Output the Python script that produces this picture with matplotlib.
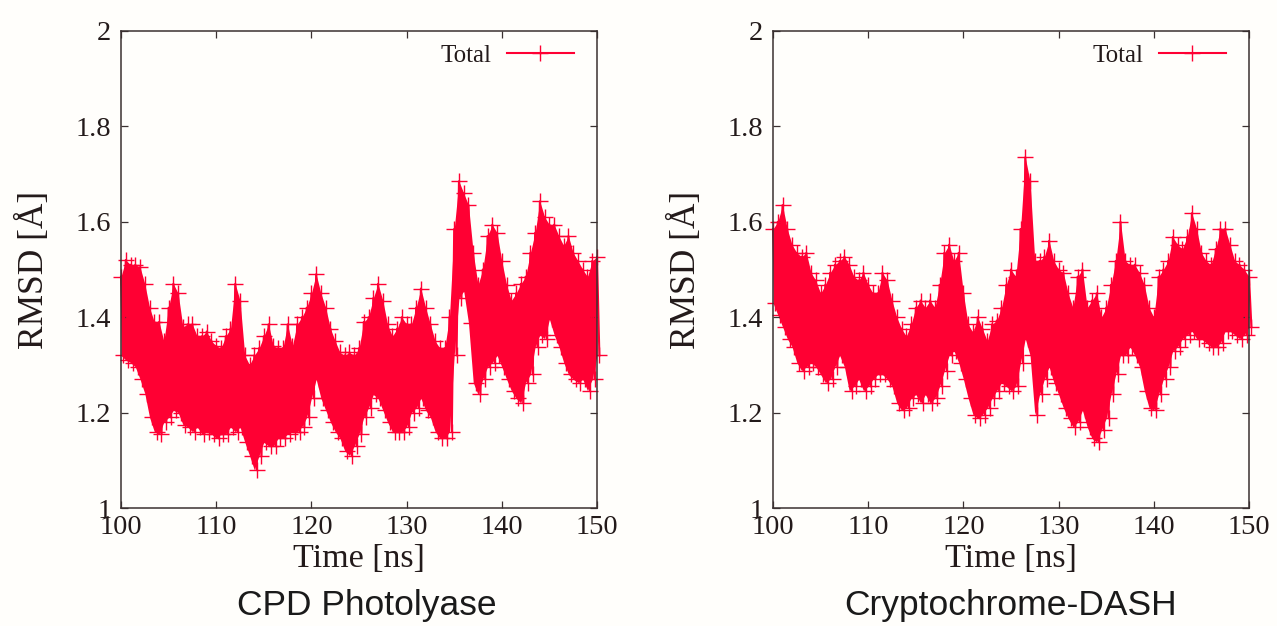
import numpy as np
import matplotlib
matplotlib.use("Agg")
import matplotlib.pyplot as plt

# ─────────────────────────────────────────────────────────────────────────────
# Data: RMSD envelope (top / bottom of the fluctuating band), read every 0.5 ns
# ─────────────────────────────────────────────────────────────────────────────

time_ns = np.arange(100.0, 150.01, 0.5)

cpd_upper = [
    1.485, 1.52, 1.51, 1.51, 1.505, 1.47, 1.42, 1.39, 1.39, 1.35,
    1.42, 1.47, 1.45, 1.38, 1.385, 1.385, 1.36, 1.36, 1.37, 1.35,
    1.34, 1.335, 1.36, 1.376, 1.47, 1.435, 1.32, 1.30, 1.32, 1.335,
    1.36, 1.385, 1.34, 1.335, 1.335, 1.385, 1.34, 1.385, 1.40, 1.42,
    1.45, 1.49, 1.45, 1.42, 1.376, 1.35, 1.326, 1.32, 1.326, 1.32,
    1.335, 1.39, 1.40, 1.44, 1.47, 1.435, 1.385, 1.36, 1.376, 1.40,
    1.385, 1.385, 1.42, 1.46, 1.42, 1.385, 1.35, 1.335, 1.335, 1.40,
    1.585, 1.685, 1.66, 1.635, 1.535, 1.468, 1.50, 1.57, 1.594, 1.577,
    1.518, 1.468, 1.435, 1.45, 1.47, 1.485, 1.535, 1.577, 1.643, 1.61,
    1.594, 1.594, 1.57, 1.55, 1.57, 1.535, 1.518, 1.50, 1.485, 1.518,
    1.527,
]
cpd_lower = [
    1.32, 1.31, 1.305, 1.296, 1.27, 1.24, 1.19, 1.16, 1.155, 1.18,
    1.19, 1.205, 1.20, 1.175, 1.17, 1.16, 1.17, 1.155, 1.16, 1.155,
    1.146, 1.155, 1.155, 1.17, 1.16, 1.17, 1.138, 1.11, 1.08, 1.11,
    1.138, 1.13, 1.13, 1.146, 1.146, 1.155, 1.16, 1.16, 1.17, 1.19,
    1.23, 1.27, 1.23, 1.205, 1.18, 1.16, 1.146, 1.12, 1.11, 1.13,
    1.155, 1.19, 1.21, 1.238, 1.23, 1.205, 1.18, 1.16, 1.16, 1.16,
    1.17, 1.20, 1.21, 1.23, 1.205, 1.19, 1.16, 1.146, 1.146, 1.16,
    1.32, 1.44, 1.455, 1.388, 1.263, 1.238, 1.27, 1.296, 1.305, 1.32,
    1.296, 1.27, 1.246, 1.23, 1.22, 1.263, 1.28, 1.338, 1.363, 1.355,
    1.396, 1.363, 1.338, 1.305, 1.28, 1.27, 1.263, 1.27, 1.246, 1.27,
    1.32,
]

dash_upper = [
    1.585, 1.60, 1.635, 1.585, 1.552, 1.535, 1.527, 1.535, 1.493, 1.477,
    1.45, 1.468, 1.493, 1.51, 1.518, 1.527, 1.51, 1.485, 1.477, 1.493,
    1.468, 1.45, 1.45, 1.493, 1.477, 1.435, 1.40, 1.376, 1.36, 1.385,
    1.42, 1.435, 1.42, 1.435, 1.42, 1.468, 1.535, 1.552, 1.518, 1.535,
    1.45, 1.385, 1.368, 1.40, 1.376, 1.35, 1.385, 1.393, 1.42, 1.468,
    1.50, 1.485, 1.585, 1.735, 1.685, 1.518, 1.518, 1.527, 1.56, 1.518,
    1.50, 1.493, 1.45, 1.42, 1.485, 1.50, 1.42, 1.435, 1.45, 1.40,
    1.42, 1.468, 1.518, 1.60, 1.518, 1.51, 1.51, 1.493, 1.468, 1.42,
    1.40, 1.485, 1.50, 1.518, 1.568, 1.552, 1.543, 1.568, 1.618, 1.585,
    1.535, 1.518, 1.51, 1.543, 1.585, 1.585, 1.552, 1.518, 1.51, 1.50,
    1.485,
]
dash_lower = [
    1.43, 1.405, 1.38, 1.355, 1.338, 1.305, 1.288, 1.296, 1.305, 1.296,
    1.28, 1.263, 1.27, 1.296, 1.32, 1.296, 1.246, 1.255, 1.27, 1.246,
    1.255, 1.27, 1.28, 1.28, 1.27, 1.255, 1.22, 1.205, 1.21, 1.23,
    1.238, 1.22, 1.238, 1.22, 1.23, 1.255, 1.288, 1.32, 1.33, 1.305,
    1.27, 1.23, 1.196, 1.188, 1.196, 1.21, 1.23, 1.246, 1.263, 1.255,
    1.246, 1.255, 1.305, 1.355, 1.32, 1.196, 1.238, 1.27, 1.296, 1.263,
    1.238, 1.21, 1.188, 1.17, 1.18, 1.205, 1.17, 1.146, 1.138, 1.163,
    1.188, 1.238, 1.28, 1.32, 1.32, 1.338, 1.32, 1.296, 1.246, 1.21,
    1.205, 1.238, 1.27, 1.296, 1.33, 1.338, 1.355, 1.363, 1.371, 1.355,
    1.355, 1.346, 1.338, 1.338, 1.346, 1.371, 1.371, 1.363, 1.355, 1.363,
    1.38,
]

titles = ["CPD Photolyase", "Cryptochrome-DASH"]
xticks = [100, 110, 120, 130, 140, 150]
yticks = [1.0, 1.2, 1.4, 1.6, 1.8, 2.0]
ytick_labels = ["1", "1.2", "1.4", "1.6", "1.8", "2"]

RED   = "#ff0033"
AXCOL = "#3a3030"
TXT   = "#231a1a"
BG    = "#fffefb"
SERIF = "Liberation Serif"
SANS  = "Liberation Sans"


def trace(upper, lower):
    """Interleave upper/lower samples so the line sweeps across the band."""
    x = np.empty(2 * len(time_ns))
    y = np.empty(2 * len(time_ns))
    x[0::2] = time_ns
    x[1::2] = time_ns + 0.25
    y[0::2] = upper
    y[1::2] = lower
    return x, y


# ─────────────────────────────────────────────────────────────────────────────
# Figure
# ─────────────────────────────────────────────────────────────────────────────

fig = plt.figure(figsize=(12.77, 6.26), dpi=100, facecolor=BG)
W, H = 1277, 626

panels = [
    (121, (cpd_upper, cpd_lower), 367),
    (773, (dash_upper, dash_lower), 1011),
]

for (left_px, (up, lo), title_x), title in zip(panels, titles):
    ax = fig.add_axes([left_px / W, (H - 508) / H, 476 / W, 477 / H])
    ax.set_facecolor(BG)

    # solid body of the dense trace, then the zig-zag with '+' points on top
    ax.fill_between(time_ns, lo, up, color=RED, lw=0, clip_on=False)
    x, y = trace(up, lo)
    ax.plot(x, y, color=RED, lw=1.5, marker="+", markersize=11,
            markeredgewidth=1.0, label="Total", clip_on=False)

    ax.set_xlim(100, 150)
    ax.set_ylim(1, 2)
    ax.set_xticks(xticks)
    ax.set_xticklabels([str(t) for t in xticks])
    ax.set_yticks(yticks)
    ax.set_yticklabels(ytick_labels)

    ax.tick_params(direction="in", length=5, width=0.9, color=AXCOL,
                   top=True, right=True, labelsize=20.5, labelcolor=TXT)
    ax.tick_params(axis="y", pad=7)
    ax.tick_params(axis="x", pad=5)
    for lab in ax.get_xticklabels() + ax.get_yticklabels():
        lab.set_family(SERIF)
    for s in ax.spines.values():
        s.set_color(AXCOL)
        s.set_linewidth(1.1)
        s.set_zorder(3)

    ax.set_xlabel("Time [ns]", family=SERIF, fontsize=24.5, color=TXT)
    ax.set_ylabel("RMSD [Å]", family=SERIF, fontsize=25.5, color=TXT)
    ax.xaxis.set_label_coords(0.5, -0.075)
    ax.yaxis.set_label_coords(-0.148, 0.5)

    leg = ax.legend(loc="upper right", bbox_to_anchor=(0.952, 0.972),
                    frameon=False, markerfirst=False, handlelength=2.7,
                    handletextpad=0.6, borderpad=0, borderaxespad=0,
                    prop={"family": SERIF, "size": 18})
    for t in leg.get_texts():
        t.set_color(TXT)

    fig.text(title_x / W, 1 - 606 / H, title, family=SANS, fontsize=25.5,
             ha="center", va="center", color="#1a1a1a")

fig.savefig("out.png", dpi=100, facecolor=BG)
